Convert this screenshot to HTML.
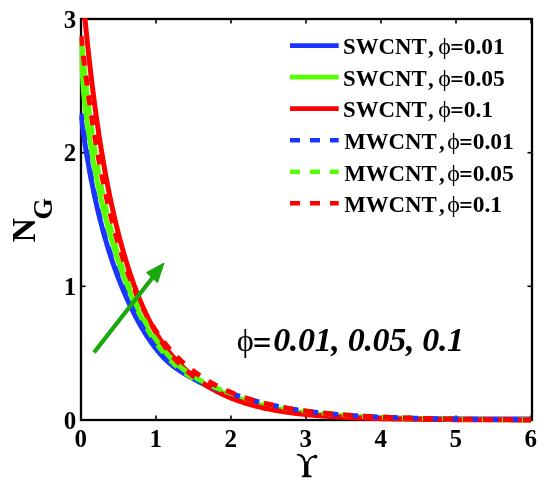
<!DOCTYPE html>
<html><head><meta charset="utf-8"><style>
html,body{margin:0;padding:0;background:#fff;}
svg{display:block;filter:blur(0.4px);}
text{font-family:"Liberation Serif",serif;font-kerning:none;}
.tl{font-size:25px;font-weight:bold;}
.lg{font-size:22.8px;font-weight:bold;}
.phi{font-weight:normal;font-size:24px;}
.val{font-size:23.5px;}
</style></head><body>
<svg width="550" height="489" viewBox="0 0 550 489">
<rect width="550" height="489" fill="#fff"/>
<defs><clipPath id="cp"><rect x="79.5" y="18.0" width="454.5" height="405.0"/></clipPath></defs>
<g stroke="#000" fill="none">
<rect x="81.0" y="19.0" width="451.0" height="401.0" stroke-width="2.3"/>
<g stroke-width="1.6"><line x1="81.0" y1="420.0" x2="81.0" y2="415.5"/><line x1="81.0" y1="19.0" x2="81.0" y2="23.5"/><line x1="156.0" y1="420.0" x2="156.0" y2="415.5"/><line x1="156.0" y1="19.0" x2="156.0" y2="23.5"/><line x1="231.0" y1="420.0" x2="231.0" y2="415.5"/><line x1="231.0" y1="19.0" x2="231.0" y2="23.5"/><line x1="306.0" y1="420.0" x2="306.0" y2="415.5"/><line x1="306.0" y1="19.0" x2="306.0" y2="23.5"/><line x1="381.0" y1="420.0" x2="381.0" y2="415.5"/><line x1="381.0" y1="19.0" x2="381.0" y2="23.5"/><line x1="456.0" y1="420.0" x2="456.0" y2="415.5"/><line x1="456.0" y1="19.0" x2="456.0" y2="23.5"/><line x1="531.0" y1="420.0" x2="531.0" y2="415.5"/><line x1="531.0" y1="19.0" x2="531.0" y2="23.5"/><line x1="81.0" y1="420.0" x2="85.5" y2="420.0"/><line x1="532.0" y1="420.0" x2="527.5" y2="420.0"/><line x1="81.0" y1="286.3" x2="85.5" y2="286.3"/><line x1="532.0" y1="286.3" x2="527.5" y2="286.3"/><line x1="81.0" y1="152.7" x2="85.5" y2="152.7"/><line x1="532.0" y1="152.7" x2="527.5" y2="152.7"/><line x1="81.0" y1="19.0" x2="85.5" y2="19.0"/><line x1="532.0" y1="19.0" x2="527.5" y2="19.0"/></g>
</g>
<g clip-path="url(#cp)">
<path d="M81.00,116.30 L81.13,117.24 L81.25,118.18 L81.38,119.11 L81.51,120.04 L81.64,120.96 L81.76,121.88 L81.89,122.79 L82.02,123.70 L82.14,124.60 L82.27,125.50 L82.40,126.39 L82.53,127.29 L82.65,128.17 L82.78,129.05 L82.91,129.93 L83.03,130.81 L83.16,131.68 L83.29,132.54 L83.42,133.40 L83.54,134.26 L83.67,135.11 L83.80,135.96 L83.92,136.81 L84.05,137.65 L84.18,138.48 L84.31,139.32 L84.43,140.15 L84.56,140.97 L84.69,141.79 L84.81,142.61 L84.94,143.42 L85.07,144.24 L85.19,145.04 L85.32,145.84 L85.45,146.64 L85.58,147.44 L85.70,148.23 L85.83,149.02 L85.96,149.80 L86.08,150.58 L86.21,151.36 L86.34,152.14 L86.47,152.91 L86.59,153.67 L86.72,154.44 L86.85,155.20 L86.97,155.95 L87.10,156.71 L87.23,157.46 L87.36,158.20 L87.48,158.95 L87.61,159.69 L87.74,160.42 L87.86,161.16 L87.99,161.89 L88.12,162.62 L88.25,163.34 L88.37,164.06 L88.50,164.78 L88.92,167.14 L89.34,169.46 L89.77,171.76 L90.19,174.02 L90.61,176.25 L91.03,178.45 L91.45,180.62 L91.87,182.76 L92.30,184.88 L92.72,186.96 L93.14,189.02 L93.56,191.05 L93.98,193.06 L94.40,195.03 L94.83,196.99 L95.25,198.92 L95.67,200.82 L96.09,202.71 L96.51,204.57 L96.93,206.40 L97.36,208.22 L97.78,210.01 L98.20,211.78 L98.62,213.53 L99.04,215.26 L99.46,216.97 L99.89,218.66 L100.31,220.33 L100.73,221.99 L101.15,223.62 L101.57,225.24 L101.99,226.83 L102.42,228.42 L102.84,229.98 L103.26,231.53 L103.68,233.06 L104.10,234.57 L104.52,236.07 L104.95,237.55 L105.37,239.02 L105.79,240.47 L106.21,241.91 L106.63,243.33 L107.05,244.74 L107.48,246.13 L107.90,247.52 L108.32,248.88 L108.74,250.24 L109.16,251.58 L109.58,252.91 L110.01,254.22 L110.43,255.53 L110.85,256.82 L111.27,258.10 L111.69,259.37 L112.11,260.62 L112.54,261.87 L112.96,263.10 L113.38,264.32 L113.80,265.53 L114.22,266.74 L114.64,267.93 L115.07,269.11 L115.49,270.28 L115.91,271.44 L116.33,272.59 L116.75,273.73 L117.17,274.86 L117.60,275.98 L118.02,277.09 L118.44,278.20 L118.86,279.29 L119.28,280.38 L119.70,281.45 L120.13,282.52 L120.55,283.58 L120.97,284.63 L121.39,285.67 L121.81,286.71 L122.23,287.73 L122.66,288.75 L123.08,289.76 L123.50,290.77 L123.92,291.76 L124.34,292.75 L124.77,293.73 L125.19,294.70 L125.61,295.67 L126.03,296.62 L126.45,297.58 L126.87,298.52 L127.30,299.46 L127.72,300.39 L128.14,301.31 L128.56,302.23 L128.98,303.13 L129.40,304.04 L129.83,304.93 L130.25,305.82 L130.67,306.71 L131.09,307.58 L131.51,308.45 L131.93,309.31 L132.36,310.17 L132.78,311.02 L133.20,311.87 L133.62,312.71 L134.04,313.54 L134.46,314.36 L134.89,315.18 L135.31,316.00 L135.73,316.80 L136.15,317.61 L136.57,318.40 L136.99,319.19 L137.42,319.97 L137.84,320.75 L138.26,321.52 L138.68,322.29 L139.10,323.05 L139.52,323.80 L139.95,324.55 L140.37,325.29 L140.79,326.03 L141.21,326.76 L141.63,327.48 L142.05,328.20 L142.48,328.92 L142.90,329.62 L143.32,330.32 L143.74,331.02 L144.16,331.71 L144.58,332.39 L145.01,333.07 L145.43,333.75 L145.85,334.41 L146.27,335.07 L146.69,335.73 L147.11,336.38 L147.54,337.03 L147.96,337.66 L148.38,338.30 L148.80,338.92 L149.22,339.55 L149.64,340.16 L150.07,340.77 L150.49,341.38 L150.91,341.98 L151.33,342.57 L151.75,343.16 L152.17,343.75 L152.60,344.32 L153.02,344.90 L153.44,345.46 L153.86,346.02 L154.28,346.58 L154.70,347.13 L155.13,347.68 L155.55,348.22 L155.97,348.75 L156.39,349.28 L156.81,349.81 L157.23,350.33 L157.66,350.84 L158.08,351.35 L158.50,351.86 L158.92,352.35 L159.34,352.85 L159.77,353.34 L160.19,353.82 L160.61,354.30 L161.03,354.78 L161.45,355.25 L161.87,355.71 L162.30,356.17 L162.72,356.63 L163.14,357.08 L163.56,357.53 L163.98,357.97 L164.40,358.40 L164.83,358.83 L165.25,359.25 L165.67,359.66 L166.09,360.07 L166.51,360.47 L166.93,360.86 L167.36,361.25 L167.78,361.63 L168.20,362.01 L168.62,362.38 L169.04,362.75 L169.46,363.11 L169.89,363.46 L170.31,363.82 L170.73,364.16 L171.15,364.50 L171.57,364.84 L171.99,365.17 L172.42,365.50 L172.84,365.83 L173.26,366.15 L173.68,366.47 L174.10,366.78 L174.52,367.09 L174.95,367.40 L175.37,367.70 L175.79,368.00 L176.21,368.30 L176.63,368.59 L177.05,368.89 L177.48,369.17 L177.90,369.46 L178.32,369.74 L178.74,370.03 L179.16,370.30 L179.58,370.58 L180.01,370.85 L180.43,371.13 L180.85,371.40 L181.27,371.67 L181.69,371.93 L182.11,372.20 L182.54,372.46 L182.96,372.72 L183.38,372.98 L183.80,373.24 L184.22,373.49 L184.64,373.75 L185.07,374.00 L185.49,374.26 L185.91,374.51 L186.33,374.76 L186.75,375.01 L187.17,375.25 L187.60,375.50 L188.02,375.74 L188.44,375.99 L188.86,376.23 L189.28,376.48 L189.70,376.72 L190.13,376.96 L190.55,377.20 L190.97,377.44 L191.39,377.68 L191.81,377.91 L192.23,378.15 L192.66,378.39 L193.08,378.62 L193.50,378.86 L194.63,379.48 L195.76,380.11 L196.89,380.72 L198.02,381.34 L199.14,381.95 L200.27,382.55 L201.40,383.15 L202.53,383.75 L203.66,384.35 L204.79,384.94 L205.92,385.52 L207.05,386.10 L208.17,386.68 L209.30,387.25 L210.43,387.82 L211.56,388.39 L212.69,388.94 L213.82,389.50 L214.95,390.05 L216.08,390.59 L217.20,391.13 L218.33,391.66 L219.46,392.19 L220.59,392.71 L221.72,393.22 L222.85,393.73 L223.98,394.23 L225.11,394.73 L226.23,395.22 L227.36,395.70 L228.49,396.18 L229.62,396.65 L230.75,397.11 L231.88,397.57 L233.01,398.01 L234.14,398.45 L235.26,398.88 L236.39,399.30 L237.52,399.71 L238.65,400.12 L239.78,400.51 L240.91,400.90 L242.04,401.28 L243.17,401.65 L244.29,402.01 L245.42,402.37 L246.55,402.71 L247.68,403.05 L248.81,403.39 L249.94,403.72 L251.07,404.04 L252.20,404.35 L253.32,404.66 L254.45,404.96 L255.58,405.25 L256.71,405.54 L257.84,405.82 L258.97,406.10 L260.10,406.37 L261.23,406.64 L262.35,406.90 L263.48,407.15 L264.61,407.40 L265.74,407.64 L266.87,407.88 L268.00,408.12 L269.13,408.35 L270.26,408.57 L271.38,408.79 L272.51,409.01 L273.64,409.22 L274.77,409.42 L275.90,409.63 L277.03,409.82 L278.16,410.02 L279.29,410.21 L280.41,410.39 L281.54,410.58 L282.67,410.75 L283.80,410.93 L284.93,411.10 L286.06,411.27 L287.19,411.43 L288.32,411.59 L289.44,411.75 L290.57,411.90 L291.70,412.05 L292.83,412.20 L293.96,412.35 L295.09,412.49 L296.22,412.63 L297.35,412.76 L298.47,412.90 L299.60,413.03 L300.73,413.15 L301.86,413.28 L302.99,413.40 L304.12,413.52 L305.25,413.64 L306.38,413.75 L307.51,413.87 L308.63,413.98 L309.76,414.08 L310.89,414.19 L312.02,414.29 L313.15,414.40 L314.28,414.49 L315.41,414.59 L316.54,414.69 L317.66,414.78 L318.79,414.87 L319.92,414.96 L321.05,415.05 L322.18,415.13 L323.31,415.22 L324.44,415.30 L325.57,415.38 L326.69,415.46 L327.82,415.54 L328.95,415.61 L330.08,415.69 L331.21,415.76 L332.34,415.83 L333.47,415.90 L334.60,415.97 L335.72,416.04 L336.85,416.10 L337.98,416.17 L339.11,416.23 L340.24,416.29 L341.37,416.35 L342.50,416.41 L343.63,416.47 L344.75,416.52 L345.88,416.58 L347.01,416.63 L348.14,416.69 L349.27,416.74 L350.40,416.79 L351.53,416.84 L352.66,416.89 L353.78,416.93 L354.91,416.98 L356.04,417.03 L357.17,417.07 L358.30,417.12 L359.43,417.16 L360.56,417.20 L361.69,417.24 L362.81,417.28 L363.94,417.32 L365.07,417.36 L366.20,417.40 L367.33,417.44 L368.46,417.47 L369.59,417.51 L370.72,417.54 L371.84,417.58 L372.97,417.61 L374.10,417.64 L375.23,417.68 L376.36,417.71 L377.49,417.74 L378.62,417.77 L379.75,417.80 L380.87,417.83 L382.00,417.86 L383.13,417.88 L384.26,417.91 L385.39,417.94 L386.52,417.96 L387.65,417.99 L388.78,418.01 L389.90,418.04 L391.03,418.06 L392.16,418.09 L393.29,418.11 L394.42,418.13 L395.55,418.15 L396.68,418.18 L397.81,418.20 L398.93,418.22 L400.06,418.24 L401.19,418.26 L402.32,418.28 L403.45,418.30 L404.58,418.31 L405.71,418.33 L406.84,418.35 L407.96,418.37 L409.09,418.39 L410.22,418.40 L411.35,418.42 L412.48,418.43 L413.61,418.45 L414.74,418.47 L415.87,418.48 L416.99,418.50 L418.12,418.51 L419.25,418.52 L420.38,418.54 L421.51,418.55 L422.64,418.57 L423.77,418.58 L424.90,418.59 L426.03,418.60 L427.15,418.62 L428.28,418.63 L429.41,418.64 L430.54,418.65 L431.67,418.66 L432.80,418.67 L433.93,418.68 L435.06,418.70 L436.18,418.71 L437.31,418.72 L438.44,418.73 L439.57,418.74 L440.70,418.75 L441.83,418.75 L442.96,418.76 L444.09,418.77 L445.21,418.78 L446.34,418.79 L447.47,418.80 L448.60,418.81 L449.73,418.81 L450.86,418.82 L451.99,418.83 L453.12,418.84 L454.24,418.85 L455.37,418.85 L456.50,418.86 L457.63,418.87 L458.76,418.87 L459.89,418.88 L461.02,418.89 L462.15,418.89 L463.27,418.90 L464.40,418.91 L465.53,418.91 L466.66,418.92 L467.79,418.92 L468.92,418.93 L470.05,418.94 L471.18,418.94 L472.30,418.95 L473.43,418.95 L474.56,418.96 L475.69,418.96 L476.82,418.97 L477.95,418.97 L479.08,418.98 L480.21,418.98 L481.33,418.98 L482.46,418.99 L483.59,418.99 L484.72,419.00 L485.85,419.00 L486.98,419.01 L488.11,419.01 L489.24,419.01 L490.36,419.02 L491.49,419.02 L492.62,419.02 L493.75,419.03 L494.88,419.03 L496.01,419.04 L497.14,419.04 L498.27,419.04 L499.39,419.05 L500.52,419.05 L501.65,419.05 L502.78,419.05 L503.91,419.06 L505.04,419.06 L506.17,419.06 L507.30,419.07 L508.42,419.07 L509.55,419.07 L510.68,419.07 L511.81,419.08 L512.94,419.08 L514.07,419.08 L515.20,419.08 L516.33,419.09 L517.45,419.09 L518.58,419.09 L519.71,419.09 L520.84,419.10 L521.97,419.10 L523.10,419.10 L524.23,419.10 L525.36,419.10 L526.48,419.11 L527.61,419.11 L528.74,419.11 L529.87,419.11 L531.00,419.11" fill="none" stroke="#1a35ff" stroke-width="5.0"/>
<path d="M81.00,37.72 L81.13,42.36 L81.25,46.65 L81.38,50.64 L81.51,54.34 L81.64,57.79 L81.76,61.01 L81.89,64.02 L82.02,66.84 L82.14,69.49 L82.27,71.99 L82.40,74.34 L82.53,76.57 L82.65,78.68 L82.78,80.68 L82.91,82.59 L83.03,84.41 L83.16,86.15 L83.29,87.82 L83.42,89.43 L83.54,90.97 L83.67,92.46 L83.80,93.90 L83.92,95.29 L84.05,96.64 L84.18,97.96 L84.31,99.24 L84.43,100.48 L84.56,101.70 L84.69,102.89 L84.81,104.05 L84.94,105.19 L85.07,106.31 L85.19,107.41 L85.32,108.49 L85.45,109.56 L85.58,110.61 L85.70,111.64 L85.83,112.66 L85.96,113.66 L86.08,114.66 L86.21,115.64 L86.34,116.61 L86.47,117.58 L86.59,118.53 L86.72,119.47 L86.85,120.41 L86.97,121.33 L87.10,122.25 L87.23,123.16 L87.36,124.07 L87.48,124.97 L87.61,125.86 L87.74,126.74 L87.86,127.62 L87.99,128.49 L88.12,129.36 L88.25,130.22 L88.37,131.07 L88.50,131.92 L88.92,134.70 L89.34,137.43 L89.77,140.12 L90.19,142.75 L90.61,145.34 L91.03,147.89 L91.45,150.40 L91.87,152.87 L92.30,155.31 L92.72,157.71 L93.14,160.07 L93.56,162.40 L93.98,164.69 L94.40,166.96 L94.83,169.19 L95.25,171.40 L95.67,173.57 L96.09,175.72 L96.51,177.84 L96.93,179.93 L97.36,181.99 L97.78,184.03 L98.20,186.05 L98.62,188.03 L99.04,190.00 L99.46,191.94 L99.89,193.86 L100.31,195.76 L100.73,197.64 L101.15,199.49 L101.57,201.33 L101.99,203.14 L102.42,204.93 L102.84,206.71 L103.26,208.47 L103.68,210.20 L104.10,211.92 L104.52,213.62 L104.95,215.31 L105.37,216.97 L105.79,218.62 L106.21,220.26 L106.63,221.87 L107.05,223.48 L107.48,225.06 L107.90,226.63 L108.32,228.19 L108.74,229.73 L109.16,231.26 L109.58,232.77 L110.01,234.27 L110.43,235.76 L110.85,237.23 L111.27,238.69 L111.69,240.13 L112.11,241.57 L112.54,242.99 L112.96,244.39 L113.38,245.79 L113.80,247.17 L114.22,248.55 L114.64,249.91 L115.07,251.26 L115.49,252.59 L115.91,253.92 L116.33,255.24 L116.75,256.54 L117.17,257.84 L117.60,259.12 L118.02,260.40 L118.44,261.66 L118.86,262.91 L119.28,264.16 L119.70,265.39 L120.13,266.61 L120.55,267.83 L120.97,269.03 L121.39,270.23 L121.81,271.41 L122.23,272.59 L122.66,273.76 L123.08,274.92 L123.50,276.07 L123.92,277.21 L124.34,278.35 L124.77,279.47 L125.19,280.59 L125.61,281.69 L126.03,282.79 L126.45,283.88 L126.87,284.97 L127.30,286.04 L127.72,287.11 L128.14,288.17 L128.56,289.22 L128.98,290.26 L129.40,291.30 L129.83,292.33 L130.25,293.35 L130.67,294.36 L131.09,295.37 L131.51,296.36 L131.93,297.35 L132.36,298.34 L132.78,299.31 L133.20,300.28 L133.62,301.24 L134.04,302.20 L134.46,303.14 L134.89,304.08 L135.31,305.02 L135.73,305.94 L136.15,306.86 L136.57,307.77 L136.99,308.68 L137.42,309.58 L137.84,310.47 L138.26,311.35 L138.68,312.23 L139.10,313.10 L139.52,313.96 L139.95,314.82 L140.37,315.67 L140.79,316.51 L141.21,317.35 L141.63,318.18 L142.05,319.00 L142.48,319.82 L142.90,320.63 L143.32,321.43 L143.74,322.23 L144.16,323.02 L144.58,323.80 L145.01,324.58 L145.43,325.35 L145.85,326.12 L146.27,326.87 L146.69,327.63 L147.11,328.37 L147.54,329.11 L147.96,329.84 L148.38,330.57 L148.80,331.29 L149.22,332.00 L149.64,332.71 L150.07,333.41 L150.49,334.10 L150.91,334.79 L151.33,335.47 L151.75,336.15 L152.17,336.81 L152.60,337.48 L153.02,338.14 L153.44,338.79 L153.86,339.43 L154.28,340.07 L154.70,340.70 L155.13,341.33 L155.55,341.95 L155.97,342.57 L156.39,343.18 L156.81,343.78 L157.23,344.38 L157.66,344.97 L158.08,345.56 L158.50,346.14 L158.92,346.71 L159.34,347.28 L159.77,347.85 L160.19,348.40 L160.61,348.96 L161.03,349.51 L161.45,350.05 L161.87,350.59 L162.30,351.12 L162.72,351.64 L163.14,352.17 L163.56,352.68 L163.98,353.19 L164.40,353.70 L164.83,354.20 L165.25,354.70 L165.67,355.19 L166.09,355.68 L166.51,356.16 L166.93,356.64 L167.36,357.11 L167.78,357.58 L168.20,358.05 L168.62,358.51 L169.04,358.96 L169.46,359.41 L169.89,359.86 L170.31,360.30 L170.73,360.74 L171.15,361.18 L171.57,361.61 L171.99,362.03 L172.42,362.45 L172.84,362.86 L173.26,363.27 L173.68,363.68 L174.10,364.07 L174.52,364.47 L174.95,364.86 L175.37,365.24 L175.79,365.63 L176.21,366.00 L176.63,366.37 L177.05,366.74 L177.48,367.11 L177.90,367.47 L178.32,367.82 L178.74,368.17 L179.16,368.52 L179.58,368.87 L180.01,369.21 L180.43,369.54 L180.85,369.88 L181.27,370.21 L181.69,370.53 L182.11,370.86 L182.54,371.18 L182.96,371.49 L183.38,371.81 L183.80,372.12 L184.22,372.43 L184.64,372.73 L185.07,373.03 L185.49,373.33 L185.91,373.63 L186.33,373.92 L186.75,374.21 L187.17,374.50 L187.60,374.79 L188.02,375.07 L188.44,375.35 L188.86,375.63 L189.28,375.90 L189.70,376.18 L190.13,376.45 L190.55,376.72 L190.97,376.99 L191.39,377.25 L191.81,377.51 L192.23,377.77 L192.66,378.03 L193.08,378.29 L193.50,378.54 L194.63,379.21 L195.76,379.87 L196.89,380.52 L198.02,381.15 L199.14,381.77 L200.27,382.38 L201.40,382.98 L202.53,383.56 L203.66,384.14 L204.79,384.71 L205.92,385.26 L207.05,385.81 L208.17,386.35 L209.30,386.88 L210.43,387.40 L211.56,387.91 L212.69,388.41 L213.82,388.91 L214.95,389.40 L216.08,389.88 L217.20,390.36 L218.33,390.82 L219.46,391.28 L220.59,391.74 L221.72,392.19 L222.85,392.63 L223.98,393.07 L225.11,393.50 L226.23,393.92 L227.36,394.34 L228.49,394.76 L229.62,395.17 L230.75,395.58 L231.88,395.98 L233.01,396.38 L234.14,396.77 L235.26,397.16 L236.39,397.55 L237.52,397.93 L238.65,398.31 L239.78,398.69 L240.91,399.06 L242.04,399.43 L243.17,399.80 L244.29,400.17 L245.42,400.53 L246.55,400.89 L247.68,401.25 L248.81,401.59 L249.94,401.94 L251.07,402.27 L252.20,402.60 L253.32,402.92 L254.45,403.24 L255.58,403.55 L256.71,403.85 L257.84,404.15 L258.97,404.44 L260.10,404.73 L261.23,405.01 L262.35,405.29 L263.48,405.56 L264.61,405.83 L265.74,406.09 L266.87,406.35 L268.00,406.60 L269.13,406.84 L270.26,407.09 L271.38,407.33 L272.51,407.56 L273.64,407.79 L274.77,408.01 L275.90,408.23 L277.03,408.45 L278.16,408.66 L279.29,408.87 L280.41,409.07 L281.54,409.27 L282.67,409.47 L283.80,409.66 L284.93,409.85 L286.06,410.04 L287.19,410.22 L288.32,410.40 L289.44,410.58 L290.57,410.75 L291.70,410.92 L292.83,411.09 L293.96,411.25 L295.09,411.41 L296.22,411.57 L297.35,411.72 L298.47,411.87 L299.60,412.02 L300.73,412.17 L301.86,412.31 L302.99,412.45 L304.12,412.59 L305.25,412.72 L306.38,412.86 L307.51,412.99 L308.63,413.11 L309.76,413.24 L310.89,413.36 L312.02,413.48 L313.15,413.60 L314.28,413.72 L315.41,413.83 L316.54,413.95 L317.66,414.06 L318.79,414.16 L319.92,414.27 L321.05,414.37 L322.18,414.48 L323.31,414.58 L324.44,414.68 L325.57,414.77 L326.69,414.87 L327.82,414.96 L328.95,415.05 L330.08,415.14 L331.21,415.23 L332.34,415.32 L333.47,415.40 L334.60,415.49 L335.72,415.57 L336.85,415.65 L337.98,415.73 L339.11,415.80 L340.24,415.88 L341.37,415.95 L342.50,416.03 L343.63,416.10 L344.75,416.17 L345.88,416.24 L347.01,416.31 L348.14,416.37 L349.27,416.44 L350.40,416.50 L351.53,416.57 L352.66,416.63 L353.78,416.69 L354.91,416.75 L356.04,416.81 L357.17,416.87 L358.30,416.92 L359.43,416.98 L360.56,417.03 L361.69,417.09 L362.81,417.14 L363.94,417.19 L365.07,417.24 L366.20,417.29 L367.33,417.34 L368.46,417.39 L369.59,417.43 L370.72,417.48 L371.84,417.53 L372.97,417.57 L374.10,417.61 L375.23,417.66 L376.36,417.70 L377.49,417.74 L378.62,417.78 L379.75,417.82 L380.87,417.86 L382.00,417.90 L383.13,417.94 L384.26,417.97 L385.39,418.01 L386.52,418.05 L387.65,418.08 L388.78,418.12 L389.90,418.15 L391.03,418.18 L392.16,418.22 L393.29,418.25 L394.42,418.28 L395.55,418.31 L396.68,418.34 L397.81,418.37 L398.93,418.40 L400.06,418.43 L401.19,418.46 L402.32,418.48 L403.45,418.51 L404.58,418.54 L405.71,418.56 L406.84,418.59 L407.96,418.61 L409.09,418.64 L410.22,418.66 L411.35,418.69 L412.48,418.71 L413.61,418.73 L414.74,418.76 L415.87,418.78 L416.99,418.80 L418.12,418.82 L419.25,418.84 L420.38,418.86 L421.51,418.88 L422.64,418.90 L423.77,418.92 L424.90,418.94 L426.03,418.96 L427.15,418.98 L428.28,419.00 L429.41,419.02 L430.54,419.03 L431.67,419.05 L432.80,419.07 L433.93,419.08 L435.06,419.10 L436.18,419.12 L437.31,419.13 L438.44,419.15 L439.57,419.16 L440.70,419.18 L441.83,419.19 L442.96,419.21 L444.09,419.22 L445.21,419.23 L446.34,419.25 L447.47,419.26 L448.60,419.27 L449.73,419.29 L450.86,419.30 L451.99,419.31 L453.12,419.32 L454.24,419.34 L455.37,419.35 L456.50,419.36 L457.63,419.37 L458.76,419.38 L459.89,419.39 L461.02,419.40 L462.15,419.41 L463.27,419.43 L464.40,419.44 L465.53,419.45 L466.66,419.46 L467.79,419.46 L468.92,419.47 L470.05,419.48 L471.18,419.49 L472.30,419.50 L473.43,419.51 L474.56,419.52 L475.69,419.53 L476.82,419.54 L477.95,419.54 L479.08,419.55 L480.21,419.56 L481.33,419.57 L482.46,419.58 L483.59,419.58 L484.72,419.59 L485.85,419.60 L486.98,419.60 L488.11,419.61 L489.24,419.62 L490.36,419.63 L491.49,419.63 L492.62,419.64 L493.75,419.64 L494.88,419.65 L496.01,419.66 L497.14,419.66 L498.27,419.67 L499.39,419.68 L500.52,419.68 L501.65,419.69 L502.78,419.69 L503.91,419.70 L505.04,419.70 L506.17,419.71 L507.30,419.71 L508.42,419.72 L509.55,419.72 L510.68,419.73 L511.81,419.73 L512.94,419.74 L514.07,419.74 L515.20,419.75 L516.33,419.75 L517.45,419.76 L518.58,419.76 L519.71,419.76 L520.84,419.77 L521.97,419.77 L523.10,419.78 L524.23,419.78 L525.36,419.78 L526.48,419.79 L527.61,419.79 L528.74,419.80 L529.87,419.80 L531.00,419.80" fill="none" stroke="#55ff00" stroke-width="5.0"/>
<path d="M81.00,-21.00 L81.13,-21.00 L81.25,-21.00 L81.38,-21.00 L81.51,-19.95 L81.64,-18.45 L81.76,-16.95 L81.89,-15.47 L82.02,-13.99 L82.14,-12.52 L82.27,-11.05 L82.40,-9.59 L82.53,-8.14 L82.65,-6.70 L82.78,-5.26 L82.91,-3.83 L83.03,-2.40 L83.16,-0.99 L83.29,0.42 L83.42,1.83 L83.54,3.23 L83.67,4.62 L83.80,6.01 L83.92,7.39 L84.05,8.76 L84.18,10.13 L84.31,11.49 L84.43,12.84 L84.56,14.19 L84.69,15.53 L84.81,16.87 L84.94,18.20 L85.07,19.52 L85.19,20.84 L85.32,22.15 L85.45,23.46 L85.58,24.76 L85.70,26.05 L85.83,27.34 L85.96,28.63 L86.08,29.90 L86.21,31.18 L86.34,32.44 L86.47,33.70 L86.59,34.96 L86.72,36.21 L86.85,37.45 L86.97,38.69 L87.10,39.92 L87.23,41.15 L87.36,42.37 L87.48,43.59 L87.61,44.80 L87.74,46.01 L87.86,47.21 L87.99,48.40 L88.12,49.59 L88.25,50.78 L88.37,51.96 L88.50,53.13 L88.92,56.99 L89.34,60.80 L89.77,64.55 L90.19,68.25 L90.61,71.90 L91.03,75.50 L91.45,79.05 L91.87,82.54 L92.30,85.99 L92.72,89.40 L93.14,92.75 L93.56,96.07 L93.98,99.33 L94.40,102.56 L94.83,105.74 L95.25,108.87 L95.67,111.97 L96.09,115.03 L96.51,118.04 L96.93,121.02 L97.36,123.96 L97.78,126.86 L98.20,129.72 L98.62,132.55 L99.04,135.34 L99.46,138.09 L99.89,140.82 L100.31,143.50 L100.73,146.16 L101.15,148.78 L101.57,151.37 L101.99,153.92 L102.42,156.45 L102.84,158.94 L103.26,161.41 L103.68,163.84 L104.10,166.25 L104.52,168.63 L104.95,170.98 L105.37,173.30 L105.79,175.60 L106.21,177.86 L106.63,180.11 L107.05,182.32 L107.48,184.51 L107.90,186.68 L108.32,188.82 L108.74,190.94 L109.16,193.03 L109.58,195.10 L110.01,197.15 L110.43,199.17 L110.85,201.17 L111.27,203.15 L111.69,205.11 L112.11,207.05 L112.54,208.96 L112.96,210.86 L113.38,212.73 L113.80,214.59 L114.22,216.42 L114.64,218.24 L115.07,220.03 L115.49,221.81 L115.91,223.57 L116.33,225.31 L116.75,227.03 L117.17,228.74 L117.60,230.43 L118.02,232.10 L118.44,233.75 L118.86,235.39 L119.28,237.01 L119.70,238.61 L120.13,240.20 L120.55,241.77 L120.97,243.33 L121.39,244.87 L121.81,246.40 L122.23,247.91 L122.66,249.40 L123.08,250.89 L123.50,252.35 L123.92,253.81 L124.34,255.25 L124.77,256.67 L125.19,258.08 L125.61,259.48 L126.03,260.87 L126.45,262.24 L126.87,263.60 L127.30,264.95 L127.72,266.28 L128.14,267.60 L128.56,268.91 L128.98,270.21 L129.40,271.50 L129.83,272.77 L130.25,274.03 L130.67,275.28 L131.09,276.52 L131.51,277.75 L131.93,278.97 L132.36,280.17 L132.78,281.37 L133.20,282.55 L133.62,283.72 L134.04,284.88 L134.46,286.03 L134.89,287.18 L135.31,288.31 L135.73,289.43 L136.15,290.54 L136.57,291.64 L136.99,292.73 L137.42,293.81 L137.84,294.88 L138.26,295.94 L138.68,296.99 L139.10,298.03 L139.52,299.07 L139.95,300.09 L140.37,301.10 L140.79,302.11 L141.21,303.11 L141.63,304.09 L142.05,305.07 L142.48,306.04 L142.90,307.00 L143.32,307.95 L143.74,308.90 L144.16,309.83 L144.58,310.76 L145.01,311.67 L145.43,312.58 L145.85,313.48 L146.27,314.37 L146.69,315.26 L147.11,316.14 L147.54,317.00 L147.96,317.86 L148.38,318.72 L148.80,319.56 L149.22,320.40 L149.64,321.22 L150.07,322.05 L150.49,322.86 L150.91,323.66 L151.33,324.46 L151.75,325.25 L152.17,326.04 L152.60,326.81 L153.02,327.58 L153.44,328.34 L153.86,329.09 L154.28,329.84 L154.70,330.58 L155.13,331.31 L155.55,332.04 L155.97,332.76 L156.39,333.47 L156.81,334.18 L157.23,334.87 L157.66,335.57 L158.08,336.25 L158.50,336.93 L158.92,337.60 L159.34,338.27 L159.77,338.93 L160.19,339.58 L160.61,340.23 L161.03,340.87 L161.45,341.50 L161.87,342.13 L162.30,342.75 L162.72,343.37 L163.14,343.98 L163.56,344.59 L163.98,345.19 L164.40,345.78 L164.83,346.37 L165.25,346.95 L165.67,347.53 L166.09,348.10 L166.51,348.66 L166.93,349.22 L167.36,349.78 L167.78,350.33 L168.20,350.87 L168.62,351.41 L169.04,351.95 L169.46,352.48 L169.89,353.00 L170.31,353.53 L170.73,354.04 L171.15,354.55 L171.57,355.06 L171.99,355.56 L172.42,356.06 L172.84,356.55 L173.26,357.04 L173.68,357.52 L174.10,358.00 L174.52,358.48 L174.95,358.95 L175.37,359.42 L175.79,359.88 L176.21,360.34 L176.63,360.79 L177.05,361.25 L177.48,361.69 L177.90,362.14 L178.32,362.58 L178.74,363.01 L179.16,363.45 L179.58,363.87 L180.01,364.30 L180.43,364.72 L180.85,365.14 L181.27,365.56 L181.69,365.97 L182.11,366.38 L182.54,366.78 L182.96,367.18 L183.38,367.58 L183.80,367.98 L184.22,368.37 L184.64,368.76 L185.07,369.15 L185.49,369.53 L185.91,369.91 L186.33,370.29 L186.75,370.66 L187.17,371.04 L187.60,371.41 L188.02,371.77 L188.44,372.14 L188.86,372.50 L189.28,372.86 L189.70,373.21 L190.13,373.56 L190.55,373.91 L190.97,374.26 L191.39,374.61 L191.81,374.95 L192.23,375.29 L192.66,375.63 L193.08,375.96 L193.50,376.30 L194.63,377.18 L195.76,378.04 L196.89,378.88 L198.02,379.71 L199.14,380.53 L200.27,381.33 L201.40,382.11 L202.53,382.88 L203.66,383.63 L204.79,384.37 L205.92,385.10 L207.05,385.81 L208.17,386.51 L209.30,387.20 L210.43,387.87 L211.56,388.53 L212.69,389.17 L213.82,389.80 L214.95,390.42 L216.08,391.03 L217.20,391.63 L218.33,392.21 L219.46,392.78 L220.59,393.35 L221.72,393.90 L222.85,394.43 L223.98,394.96 L225.11,395.48 L226.23,395.99 L227.36,396.48 L228.49,396.97 L229.62,397.44 L230.75,397.91 L231.88,398.37 L233.01,398.81 L234.14,399.25 L235.26,399.68 L236.39,400.10 L237.52,400.51 L238.65,400.92 L239.78,401.31 L240.91,401.70 L242.04,402.08 L243.17,402.45 L244.29,402.81 L245.42,403.17 L246.55,403.52 L247.68,403.86 L248.81,404.19 L249.94,404.52 L251.07,404.84 L252.20,405.15 L253.32,405.46 L254.45,405.76 L255.58,406.05 L256.71,406.34 L257.84,406.63 L258.97,406.90 L260.10,407.17 L261.23,407.44 L262.35,407.70 L263.48,407.95 L264.61,408.20 L265.74,408.45 L266.87,408.69 L268.00,408.92 L269.13,409.15 L270.26,409.37 L271.38,409.59 L272.51,409.81 L273.64,410.02 L274.77,410.23 L275.90,410.43 L277.03,410.63 L278.16,410.82 L279.29,411.01 L280.41,411.20 L281.54,411.38 L282.67,411.56 L283.80,411.73 L284.93,411.90 L286.06,412.07 L287.19,412.23 L288.32,412.39 L289.44,412.55 L290.57,412.71 L291.70,412.86 L292.83,413.00 L293.96,413.15 L295.09,413.29 L296.22,413.43 L297.35,413.57 L298.47,413.70 L299.60,413.83 L300.73,413.96 L301.86,414.08 L302.99,414.20 L304.12,414.32 L305.25,414.44 L306.38,414.56 L307.51,414.67 L308.63,414.78 L309.76,414.89 L310.89,414.99 L312.02,415.10 L313.15,415.20 L314.28,415.30 L315.41,415.39 L316.54,415.49 L317.66,415.58 L318.79,415.67 L319.92,415.76 L321.05,415.85 L322.18,415.94 L323.31,416.02 L324.44,416.10 L325.57,416.18 L326.69,416.26 L327.82,416.34 L328.95,416.42 L330.08,416.49 L331.21,416.56 L332.34,416.63 L333.47,416.70 L334.60,416.77 L335.72,416.84 L336.85,416.90 L337.98,416.97 L339.11,417.03 L340.24,417.09 L341.37,417.15 L342.50,417.21 L343.63,417.27 L344.75,417.33 L345.88,417.38 L347.01,417.43 L348.14,417.49 L349.27,417.54 L350.40,417.59 L351.53,417.64 L352.66,417.69 L353.78,417.74 L354.91,417.78 L356.04,417.83 L357.17,417.87 L358.30,417.92 L359.43,417.96 L360.56,418.00 L361.69,418.04 L362.81,418.09 L363.94,418.12 L365.07,418.16 L366.20,418.20 L367.33,418.24 L368.46,418.28 L369.59,418.31 L370.72,418.35 L371.84,418.38 L372.97,418.41 L374.10,418.45 L375.23,418.48 L376.36,418.51 L377.49,418.54 L378.62,418.57 L379.75,418.60 L380.87,418.63 L382.00,418.66 L383.13,418.69 L384.26,418.71 L385.39,418.74 L386.52,418.77 L387.65,418.79 L388.78,418.82 L389.90,418.84 L391.03,418.86 L392.16,418.89 L393.29,418.91 L394.42,418.93 L395.55,418.96 L396.68,418.98 L397.81,419.00 L398.93,419.02 L400.06,419.04 L401.19,419.06 L402.32,419.08 L403.45,419.10 L404.58,419.12 L405.71,419.13 L406.84,419.15 L407.96,419.17 L409.09,419.19 L410.22,419.20 L411.35,419.22 L412.48,419.24 L413.61,419.25 L414.74,419.27 L415.87,419.28 L416.99,419.30 L418.12,419.31 L419.25,419.33 L420.38,419.34 L421.51,419.35 L422.64,419.37 L423.77,419.38 L424.90,419.39 L426.03,419.41 L427.15,419.42 L428.28,419.43 L429.41,419.44 L430.54,419.45 L431.67,419.46 L432.80,419.48 L433.93,419.49 L435.06,419.50 L436.18,419.51 L437.31,419.52 L438.44,419.53 L439.57,419.54 L440.70,419.55 L441.83,419.56 L442.96,419.57 L444.09,419.57 L445.21,419.58 L446.34,419.59 L447.47,419.60 L448.60,419.61 L449.73,419.62 L450.86,419.62 L451.99,419.63 L453.12,419.64 L454.24,419.65 L455.37,419.65 L456.50,419.66 L457.63,419.67 L458.76,419.68 L459.89,419.68 L461.02,419.69 L462.15,419.70 L463.27,419.70 L464.40,419.71 L465.53,419.71 L466.66,419.72 L467.79,419.73 L468.92,419.73 L470.05,419.74 L471.18,419.74 L472.30,419.75 L473.43,419.75 L474.56,419.76 L475.69,419.76 L476.82,419.77 L477.95,419.77 L479.08,419.78 L480.21,419.78 L481.33,419.79 L482.46,419.79 L483.59,419.80 L484.72,419.80 L485.85,419.80 L486.98,419.81 L488.11,419.81 L489.24,419.82 L490.36,419.82 L491.49,419.82 L492.62,419.83 L493.75,419.83 L494.88,419.83 L496.01,419.84 L497.14,419.84 L498.27,419.84 L499.39,419.85 L500.52,419.85 L501.65,419.85 L502.78,419.86 L503.91,419.86 L505.04,419.86 L506.17,419.87 L507.30,419.87 L508.42,419.87 L509.55,419.87 L510.68,419.88 L511.81,419.88 L512.94,419.88 L514.07,419.88 L515.20,419.89 L516.33,419.89 L517.45,419.89 L518.58,419.89 L519.71,419.90 L520.84,419.90 L521.97,419.90 L523.10,419.90 L524.23,419.90 L525.36,419.91 L526.48,419.91 L527.61,419.91 L528.74,419.91 L529.87,419.91 L531.00,419.91" fill="none" stroke="#ff0000" stroke-width="5.0"/>
<path d="M81.00,113.46 L81.13,114.43 L81.25,115.40 L81.38,116.36 L81.51,117.32 L81.64,118.27 L81.76,119.21 L81.89,120.16 L82.02,121.09 L82.14,122.03 L82.27,122.95 L82.40,123.88 L82.53,124.79 L82.65,125.71 L82.78,126.62 L82.91,127.52 L83.03,128.42 L83.16,129.31 L83.29,130.20 L83.42,131.09 L83.54,131.97 L83.67,132.85 L83.80,133.72 L83.92,134.59 L84.05,135.45 L84.18,136.31 L84.31,137.16 L84.43,138.01 L84.56,138.86 L84.69,139.70 L84.81,140.54 L84.94,141.37 L85.07,142.20 L85.19,143.03 L85.32,143.85 L85.45,144.67 L85.58,145.48 L85.70,146.29 L85.83,147.09 L85.96,147.90 L86.08,148.69 L86.21,149.49 L86.34,150.28 L86.47,151.06 L86.59,151.85 L86.72,152.62 L86.85,153.40 L86.97,154.17 L87.10,154.94 L87.23,155.70 L87.36,156.46 L87.48,157.22 L87.61,157.97 L87.74,158.72 L87.86,159.47 L87.99,160.21 L88.12,160.95 L88.25,161.69 L88.37,162.42 L88.50,163.15 L88.92,165.55 L89.34,167.91 L89.77,170.23 L90.19,172.52 L90.61,174.78 L91.03,177.01 L91.45,179.20 L91.87,181.36 L92.30,183.50 L92.72,185.60 L93.14,187.67 L93.56,189.72 L93.98,191.74 L94.40,193.73 L94.83,195.69 L95.25,197.63 L95.67,199.54 L96.09,201.43 L96.51,203.30 L96.93,205.14 L97.36,206.96 L97.78,208.75 L98.20,210.52 L98.62,212.28 L99.04,214.01 L99.46,215.72 L99.89,217.41 L100.31,219.07 L100.73,220.72 L101.15,222.36 L101.57,223.97 L101.99,225.56 L102.42,227.14 L102.84,228.70 L103.26,230.24 L103.68,231.76 L104.10,233.27 L104.52,234.76 L104.95,236.24 L105.37,237.70 L105.79,239.14 L106.21,240.57 L106.63,241.98 L107.05,243.39 L107.48,244.77 L107.90,246.14 L108.32,247.50 L108.74,248.85 L109.16,250.18 L109.58,251.50 L110.01,252.81 L110.43,254.10 L110.85,255.38 L111.27,256.65 L111.69,257.91 L112.11,259.16 L112.54,260.39 L112.96,261.62 L113.38,262.83 L113.80,264.03 L114.22,265.22 L114.64,266.40 L115.07,267.58 L115.49,268.74 L115.91,269.89 L116.33,271.03 L116.75,272.16 L117.17,273.28 L117.60,274.39 L118.02,275.50 L118.44,276.59 L118.86,277.68 L119.28,278.75 L119.70,279.82 L120.13,280.88 L120.55,281.93 L120.97,282.97 L121.39,284.01 L121.81,285.04 L122.23,286.05 L122.66,287.07 L123.08,288.07 L123.50,289.06 L123.92,290.05 L124.34,291.03 L124.77,292.00 L125.19,292.97 L125.61,293.93 L126.03,294.88 L126.45,295.82 L126.87,296.76 L127.30,297.69 L127.72,298.62 L128.14,299.53 L128.56,300.44 L128.98,301.35 L129.40,302.24 L129.83,303.13 L130.25,304.02 L130.67,304.89 L131.09,305.77 L131.51,306.63 L131.93,307.49 L132.36,308.34 L132.78,309.19 L133.20,310.03 L133.62,310.86 L134.04,311.69 L134.46,312.51 L134.89,313.33 L135.31,314.14 L135.73,314.94 L136.15,315.74 L136.57,316.53 L136.99,317.32 L137.42,318.10 L137.84,318.87 L138.26,319.64 L138.68,320.40 L139.10,321.16 L139.52,321.91 L139.95,322.66 L140.37,323.40 L140.79,324.13 L141.21,324.86 L141.63,325.58 L142.05,326.30 L142.48,327.01 L142.90,327.72 L143.32,328.42 L143.74,329.11 L144.16,329.80 L144.58,330.48 L145.01,331.16 L145.43,331.83 L145.85,332.50 L146.27,333.16 L146.69,333.82 L147.11,334.47 L147.54,335.11 L147.96,335.75 L148.38,336.38 L148.80,337.01 L149.22,337.63 L149.64,338.25 L150.07,338.86 L150.49,339.46 L150.91,340.06 L151.33,340.66 L151.75,341.25 L152.17,341.83 L152.60,342.41 L153.02,342.98 L153.44,343.55 L153.86,344.11 L154.28,344.67 L154.70,345.22 L155.13,345.77 L155.55,346.31 L155.97,346.85 L156.39,347.38 L156.81,347.91 L157.23,348.43 L157.66,348.94 L158.08,349.46 L158.50,349.96 L158.92,350.46 L159.34,350.96 L159.77,351.45 L160.19,351.94 L160.61,352.42 L161.03,352.90 L161.45,353.37 L161.87,353.84 L162.30,354.30 L162.72,354.76 L163.14,355.21 L163.56,355.66 L163.98,356.11 L164.40,356.55 L164.83,356.98 L165.25,357.42 L165.67,357.84 L166.09,358.27 L166.51,358.69 L166.93,359.10 L167.36,359.52 L167.78,359.92 L168.20,360.33 L168.62,360.73 L169.04,361.12 L169.46,361.52 L169.89,361.91 L170.31,362.29 L170.73,362.67 L171.15,363.05 L171.57,363.43 L171.99,363.80 L172.42,364.17 L172.84,364.53 L173.26,364.90 L173.68,365.25 L174.10,365.61 L174.52,365.96 L174.95,366.31 L175.37,366.66 L175.79,367.00 L176.21,367.35 L176.63,367.68 L177.05,368.02 L177.48,368.35 L177.90,368.68 L178.32,369.01 L178.74,369.34 L179.16,369.66 L179.58,369.98 L180.01,370.29 L180.43,370.60 L180.85,370.91 L181.27,371.21 L181.69,371.50 L182.11,371.80 L182.54,372.09 L182.96,372.38 L183.38,372.66 L183.80,372.94 L184.22,373.22 L184.64,373.50 L185.07,373.77 L185.49,374.04 L185.91,374.30 L186.33,374.56 L186.75,374.82 L187.17,375.08 L187.60,375.34 L188.02,375.59 L188.44,375.84 L188.86,376.09 L189.28,376.33 L189.70,376.57 L190.13,376.81 L190.55,377.05 L190.97,377.29 L191.39,377.52 L191.81,377.75 L192.23,377.98 L192.66,378.21 L193.08,378.44 L193.50,378.66 L194.63,379.25 L195.76,379.82 L196.89,380.39 L198.02,380.94 L199.14,381.48 L200.27,382.01 L201.40,382.53 L202.53,383.04 L203.66,383.54 L204.79,384.04 L205.92,384.52 L207.05,384.99 L208.17,385.46 L209.30,385.92 L210.43,386.37 L211.56,386.82 L212.69,387.26 L213.82,387.69 L214.95,388.11 L216.08,388.53 L217.20,388.95 L218.33,389.35 L219.46,389.76 L220.59,390.15 L221.72,390.55 L222.85,390.94 L223.98,391.32 L225.11,391.70 L226.23,392.07 L227.36,392.45 L228.49,392.81 L229.62,393.18 L230.75,393.54 L231.88,393.90 L233.01,394.25 L234.14,394.61 L235.26,394.96 L236.39,395.31 L237.52,395.65 L238.65,396.00 L239.78,396.34 L240.91,396.68 L242.04,397.03 L243.17,397.36 L244.29,397.70 L245.42,398.04 L246.55,398.38 L247.68,398.71 L248.81,399.05 L249.94,399.38 L251.07,399.72 L252.20,400.05 L253.32,400.38 L254.45,400.71 L255.58,401.04 L256.71,401.36 L257.84,401.68 L258.97,401.99 L260.10,402.29 L261.23,402.59 L262.35,402.88 L263.48,403.17 L264.61,403.45 L265.74,403.73 L266.87,404.01 L268.00,404.28 L269.13,404.54 L270.26,404.80 L271.38,405.06 L272.51,405.31 L273.64,405.56 L274.77,405.80 L275.90,406.04 L277.03,406.27 L278.16,406.50 L279.29,406.73 L280.41,406.95 L281.54,407.17 L282.67,407.39 L283.80,407.60 L284.93,407.81 L286.06,408.01 L287.19,408.21 L288.32,408.41 L289.44,408.61 L290.57,408.80 L291.70,408.98 L292.83,409.17 L293.96,409.35 L295.09,409.53 L296.22,409.70 L297.35,409.88 L298.47,410.05 L299.60,410.21 L300.73,410.38 L301.86,410.54 L302.99,410.70 L304.12,410.85 L305.25,411.01 L306.38,411.16 L307.51,411.30 L308.63,411.45 L309.76,411.59 L310.89,411.73 L312.02,411.87 L313.15,412.01 L314.28,412.14 L315.41,412.27 L316.54,412.40 L317.66,412.53 L318.79,412.66 L319.92,412.78 L321.05,412.90 L322.18,413.02 L323.31,413.13 L324.44,413.25 L325.57,413.36 L326.69,413.47 L327.82,413.58 L328.95,413.69 L330.08,413.79 L331.21,413.90 L332.34,414.00 L333.47,414.10 L334.60,414.20 L335.72,414.30 L336.85,414.39 L337.98,414.49 L339.11,414.58 L340.24,414.67 L341.37,414.76 L342.50,414.84 L343.63,414.93 L344.75,415.02 L345.88,415.10 L347.01,415.18 L348.14,415.26 L349.27,415.34 L350.40,415.42 L351.53,415.49 L352.66,415.57 L353.78,415.64 L354.91,415.72 L356.04,415.79 L357.17,415.86 L358.30,415.93 L359.43,416.00 L360.56,416.06 L361.69,416.13 L362.81,416.19 L363.94,416.26 L365.07,416.32 L366.20,416.38 L367.33,416.44 L368.46,416.50 L369.59,416.56 L370.72,416.62 L371.84,416.67 L372.97,416.73 L374.10,416.78 L375.23,416.84 L376.36,416.89 L377.49,416.94 L378.62,416.99 L379.75,417.04 L380.87,417.09 L382.00,417.14 L383.13,417.19 L384.26,417.23 L385.39,417.28 L386.52,417.33 L387.65,417.37 L388.78,417.41 L389.90,417.46 L391.03,417.50 L392.16,417.54 L393.29,417.58 L394.42,417.62 L395.55,417.66 L396.68,417.70 L397.81,417.74 L398.93,417.78 L400.06,417.82 L401.19,417.85 L402.32,417.89 L403.45,417.92 L404.58,417.96 L405.71,417.99 L406.84,418.03 L407.96,418.06 L409.09,418.09 L410.22,418.12 L411.35,418.15 L412.48,418.18 L413.61,418.21 L414.74,418.24 L415.87,418.27 L416.99,418.30 L418.12,418.33 L419.25,418.36 L420.38,418.39 L421.51,418.41 L422.64,418.44 L423.77,418.47 L424.90,418.49 L426.03,418.52 L427.15,418.54 L428.28,418.57 L429.41,418.59 L430.54,418.61 L431.67,418.64 L432.80,418.66 L433.93,418.68 L435.06,418.70 L436.18,418.72 L437.31,418.75 L438.44,418.77 L439.57,418.79 L440.70,418.81 L441.83,418.83 L442.96,418.85 L444.09,418.87 L445.21,418.89 L446.34,418.90 L447.47,418.92 L448.60,418.94 L449.73,418.96 L450.86,418.98 L451.99,418.99 L453.12,419.01 L454.24,419.03 L455.37,419.04 L456.50,419.06 L457.63,419.07 L458.76,419.09 L459.89,419.10 L461.02,419.12 L462.15,419.13 L463.27,419.15 L464.40,419.16 L465.53,419.18 L466.66,419.19 L467.79,419.20 L468.92,419.22 L470.05,419.23 L471.18,419.24 L472.30,419.26 L473.43,419.27 L474.56,419.28 L475.69,419.29 L476.82,419.30 L477.95,419.32 L479.08,419.33 L480.21,419.34 L481.33,419.35 L482.46,419.36 L483.59,419.37 L484.72,419.38 L485.85,419.39 L486.98,419.40 L488.11,419.41 L489.24,419.42 L490.36,419.43 L491.49,419.44 L492.62,419.45 L493.75,419.46 L494.88,419.47 L496.01,419.48 L497.14,419.49 L498.27,419.49 L499.39,419.50 L500.52,419.51 L501.65,419.52 L502.78,419.53 L503.91,419.54 L505.04,419.54 L506.17,419.55 L507.30,419.56 L508.42,419.57 L509.55,419.57 L510.68,419.58 L511.81,419.59 L512.94,419.59 L514.07,419.60 L515.20,419.61 L516.33,419.61 L517.45,419.62 L518.58,419.63 L519.71,419.63 L520.84,419.64 L521.97,419.64 L523.10,419.65 L524.23,419.66 L525.36,419.66 L526.48,419.67 L527.61,419.67 L528.74,419.68 L529.87,419.68 L531.00,419.69" fill="none" stroke="#1a35ff" stroke-width="5.0" stroke-dasharray="10 10" stroke-dashoffset="2.93"/>
<path d="M81.00,35.77 L81.13,37.14 L81.25,38.51 L81.38,39.87 L81.51,41.22 L81.64,42.56 L81.76,43.90 L81.89,45.23 L82.02,46.55 L82.14,47.86 L82.27,49.17 L82.40,50.47 L82.53,51.77 L82.65,53.05 L82.78,54.33 L82.91,55.60 L83.03,56.87 L83.16,58.13 L83.29,59.38 L83.42,60.62 L83.54,61.86 L83.67,63.09 L83.80,64.32 L83.92,65.53 L84.05,66.75 L84.18,67.95 L84.31,69.15 L84.43,70.34 L84.56,71.53 L84.69,72.71 L84.81,73.88 L84.94,75.05 L85.07,76.21 L85.19,77.37 L85.32,78.52 L85.45,79.66 L85.58,80.80 L85.70,81.93 L85.83,83.05 L85.96,84.17 L86.08,85.29 L86.21,86.40 L86.34,87.50 L86.47,88.60 L86.59,89.69 L86.72,90.77 L86.85,91.85 L86.97,92.93 L87.10,94.00 L87.23,95.06 L87.36,96.12 L87.48,97.17 L87.61,98.22 L87.74,99.26 L87.86,100.30 L87.99,101.33 L88.12,102.36 L88.25,103.38 L88.37,104.40 L88.50,105.41 L88.92,108.73 L89.34,112.00 L89.77,115.21 L90.19,118.38 L90.61,121.49 L91.03,124.55 L91.45,127.57 L91.87,130.54 L92.30,133.46 L92.72,136.34 L93.14,139.18 L93.56,141.97 L93.98,144.72 L94.40,147.43 L94.83,150.10 L95.25,152.74 L95.67,155.33 L96.09,157.89 L96.51,160.41 L96.93,162.89 L97.36,165.34 L97.78,167.76 L98.20,170.14 L98.62,172.49 L99.04,174.80 L99.46,177.09 L99.89,179.34 L100.31,181.57 L100.73,183.77 L101.15,185.93 L101.57,188.07 L101.99,190.18 L102.42,192.27 L102.84,194.32 L103.26,196.36 L103.68,198.36 L104.10,200.34 L104.52,202.30 L104.95,204.23 L105.37,206.14 L105.79,208.03 L106.21,209.89 L106.63,211.74 L107.05,213.56 L107.48,215.35 L107.90,217.13 L108.32,218.89 L108.74,220.63 L109.16,222.34 L109.58,224.04 L110.01,225.72 L110.43,227.38 L110.85,229.03 L111.27,230.65 L111.69,232.26 L112.11,233.85 L112.54,235.42 L112.96,236.98 L113.38,238.52 L113.80,240.04 L114.22,241.55 L114.64,243.04 L115.07,244.52 L115.49,245.98 L115.91,247.42 L116.33,248.86 L116.75,250.28 L117.17,251.68 L117.60,253.07 L118.02,254.45 L118.44,255.81 L118.86,257.16 L119.28,258.50 L119.70,259.82 L120.13,261.14 L120.55,262.44 L120.97,263.72 L121.39,265.00 L121.81,266.26 L122.23,267.52 L122.66,268.76 L123.08,269.99 L123.50,271.21 L123.92,272.41 L124.34,273.61 L124.77,274.80 L125.19,275.97 L125.61,277.14 L126.03,278.29 L126.45,279.44 L126.87,280.58 L127.30,281.70 L127.72,282.82 L128.14,283.92 L128.56,285.02 L128.98,286.11 L129.40,287.19 L129.83,288.25 L130.25,289.31 L130.67,290.37 L131.09,291.41 L131.51,292.44 L131.93,293.47 L132.36,294.48 L132.78,295.49 L133.20,296.49 L133.62,297.48 L134.04,298.46 L134.46,299.44 L134.89,300.40 L135.31,301.36 L135.73,302.31 L136.15,303.26 L136.57,304.19 L136.99,305.12 L137.42,306.04 L137.84,306.95 L138.26,307.85 L138.68,308.75 L139.10,309.64 L139.52,310.52 L139.95,311.39 L140.37,312.26 L140.79,313.12 L141.21,313.97 L141.63,314.82 L142.05,315.65 L142.48,316.48 L142.90,317.31 L143.32,318.12 L143.74,318.93 L144.16,319.74 L144.58,320.53 L145.01,321.32 L145.43,322.10 L145.85,322.88 L146.27,323.65 L146.69,324.41 L147.11,325.16 L147.54,325.91 L147.96,326.65 L148.38,327.39 L148.80,328.11 L149.22,328.84 L149.64,329.55 L150.07,330.26 L150.49,330.96 L150.91,331.66 L151.33,332.35 L151.75,333.03 L152.17,333.71 L152.60,334.38 L153.02,335.04 L153.44,335.70 L153.86,336.36 L154.28,337.00 L154.70,337.64 L155.13,338.28 L155.55,338.90 L155.97,339.53 L156.39,340.14 L156.81,340.75 L157.23,341.36 L157.66,341.96 L158.08,342.55 L158.50,343.14 L158.92,343.72 L159.34,344.30 L159.77,344.87 L160.19,345.43 L160.61,345.99 L161.03,346.55 L161.45,347.10 L161.87,347.64 L162.30,348.18 L162.72,348.72 L163.14,349.25 L163.56,349.77 L163.98,350.29 L164.40,350.80 L164.83,351.31 L165.25,351.82 L165.67,352.31 L166.09,352.81 L166.51,353.30 L166.93,353.79 L167.36,354.27 L167.78,354.74 L168.20,355.21 L168.62,355.68 L169.04,356.15 L169.46,356.61 L169.89,357.06 L170.31,357.51 L170.73,357.96 L171.15,358.40 L171.57,358.84 L171.99,359.27 L172.42,359.70 L172.84,360.12 L173.26,360.54 L173.68,360.96 L174.10,361.37 L174.52,361.77 L174.95,362.17 L175.37,362.57 L175.79,362.96 L176.21,363.35 L176.63,363.73 L177.05,364.11 L177.48,364.49 L177.90,364.86 L178.32,365.23 L178.74,365.60 L179.16,365.96 L179.58,366.31 L180.01,366.67 L180.43,367.02 L180.85,367.36 L181.27,367.70 L181.69,368.04 L182.11,368.38 L182.54,368.71 L182.96,369.04 L183.38,369.37 L183.80,369.69 L184.22,370.01 L184.64,370.33 L185.07,370.64 L185.49,370.95 L185.91,371.26 L186.33,371.57 L186.75,371.87 L187.17,372.17 L187.60,372.47 L188.02,372.76 L188.44,373.05 L188.86,373.34 L189.28,373.63 L189.70,373.91 L190.13,374.20 L190.55,374.48 L190.97,374.75 L191.39,375.03 L191.81,375.30 L192.23,375.57 L192.66,375.84 L193.08,376.10 L193.50,376.37 L194.63,377.06 L195.76,377.74 L196.89,378.40 L198.02,379.05 L199.14,379.69 L200.27,380.31 L201.40,380.92 L202.53,381.52 L203.66,382.10 L204.79,382.67 L205.92,383.24 L207.05,383.79 L208.17,384.33 L209.30,384.86 L210.43,385.37 L211.56,385.88 L212.69,386.38 L213.82,386.87 L214.95,387.36 L216.08,387.83 L217.20,388.29 L218.33,388.75 L219.46,389.20 L220.59,389.64 L221.72,390.08 L222.85,390.50" fill="none" stroke="#55ff00" stroke-width="5.0" stroke-dasharray="10 10" stroke-dashoffset="10"/>
<path d="M223.98,390.92 L225.11,391.34 L226.23,391.75 L227.36,392.15 L228.49,392.55 L229.62,392.94 L230.75,393.33 L231.88,393.71 L233.01,394.09 L234.14,394.46 L235.26,394.83 L236.39,395.20 L237.52,395.56 L238.65,395.92 L239.78,396.27 L240.91,396.63 L242.04,396.98 L243.17,397.33 L244.29,397.67 L245.42,398.02 L246.55,398.36 L247.68,398.70 L248.81,399.04 L249.94,399.38 L251.07,399.71 L252.20,400.05 L253.32,400.38 L254.45,400.71 L255.58,401.04 L256.71,401.36 L257.84,401.68 L258.97,401.99 L260.10,402.29 L261.23,402.59 L262.35,402.88 L263.48,403.17 L264.61,403.45 L265.74,403.73 L266.87,404.01 L268.00,404.28 L269.13,404.54 L270.26,404.80 L271.38,405.06 L272.51,405.31 L273.64,405.56 L274.77,405.80 L275.90,406.04 L277.03,406.27 L278.16,406.50 L279.29,406.73 L280.41,406.95 L281.54,407.17 L282.67,407.39 L283.80,407.60 L284.93,407.81 L286.06,408.01 L287.19,408.21 L288.32,408.41 L289.44,408.61 L290.57,408.80 L291.70,408.98 L292.83,409.17 L293.96,409.35 L295.09,409.53 L296.22,409.70 L297.35,409.88 L298.47,410.05 L299.60,410.21 L300.73,410.38 L301.86,410.54 L302.99,410.70 L304.12,410.85 L305.25,411.01 L306.38,411.16 L307.51,411.30 L308.63,411.45 L309.76,411.59 L310.89,411.73 L312.02,411.87 L313.15,412.01 L314.28,412.14 L315.41,412.27 L316.54,412.40 L317.66,412.53 L318.79,412.66 L319.92,412.78 L321.05,412.90 L322.18,413.02 L323.31,413.13 L324.44,413.25 L325.57,413.36 L326.69,413.47 L327.82,413.58 L328.95,413.69 L330.08,413.79 L331.21,413.90 L332.34,414.00 L333.47,414.10 L334.60,414.20 L335.72,414.30 L336.85,414.39 L337.98,414.49 L339.11,414.58 L340.24,414.67 L341.37,414.76 L342.50,414.84 L343.63,414.93 L344.75,415.02 L345.88,415.10 L347.01,415.18 L348.14,415.26 L349.27,415.34 L350.40,415.42 L351.53,415.49 L352.66,415.57 L353.78,415.64 L354.91,415.72 L356.04,415.79 L357.17,415.86 L358.30,415.93 L359.43,416.00 L360.56,416.06 L361.69,416.13 L362.81,416.19 L363.94,416.26 L365.07,416.32 L366.20,416.38 L367.33,416.44 L368.46,416.50 L369.59,416.56 L370.72,416.62 L371.84,416.67 L372.97,416.73 L374.10,416.78 L375.23,416.84 L376.36,416.89 L377.49,416.94 L378.62,416.99 L379.75,417.04 L380.87,417.09 L382.00,417.14 L383.13,417.19 L384.26,417.23 L385.39,417.28 L386.52,417.33 L387.65,417.37 L388.78,417.41 L389.90,417.46 L391.03,417.50 L392.16,417.54 L393.29,417.58 L394.42,417.62 L395.55,417.66 L396.68,417.70 L397.81,417.74 L398.93,417.78 L400.06,417.82 L401.19,417.85 L402.32,417.89 L403.45,417.92 L404.58,417.96 L405.71,417.99 L406.84,418.03 L407.96,418.06 L409.09,418.09 L410.22,418.12 L411.35,418.15 L412.48,418.18 L413.61,418.21 L414.74,418.24 L415.87,418.27 L416.99,418.30 L418.12,418.33 L419.25,418.36 L420.38,418.39 L421.51,418.41 L422.64,418.44 L423.77,418.47 L424.90,418.49 L426.03,418.52 L427.15,418.54 L428.28,418.57 L429.41,418.59 L430.54,418.61 L431.67,418.64 L432.80,418.66 L433.93,418.68 L435.06,418.70 L436.18,418.72 L437.31,418.75 L438.44,418.77 L439.57,418.79 L440.70,418.81 L441.83,418.83 L442.96,418.85 L444.09,418.87 L445.21,418.89 L446.34,418.90 L447.47,418.92 L448.60,418.94 L449.73,418.96 L450.86,418.98 L451.99,418.99 L453.12,419.01 L454.24,419.03 L455.37,419.04 L456.50,419.06 L457.63,419.07 L458.76,419.09 L459.89,419.10 L461.02,419.12 L462.15,419.13 L463.27,419.15 L464.40,419.16 L465.53,419.18 L466.66,419.19 L467.79,419.20 L468.92,419.22 L470.05,419.23 L471.18,419.24 L472.30,419.26 L473.43,419.27 L474.56,419.28 L475.69,419.29 L476.82,419.30 L477.95,419.32 L479.08,419.33 L480.21,419.34 L481.33,419.35 L482.46,419.36 L483.59,419.37 L484.72,419.38 L485.85,419.39 L486.98,419.40 L488.11,419.41 L489.24,419.42 L490.36,419.43 L491.49,419.44 L492.62,419.45 L493.75,419.46 L494.88,419.47 L496.01,419.48 L497.14,419.49 L498.27,419.49 L499.39,419.50 L500.52,419.51 L501.65,419.52 L502.78,419.53 L503.91,419.54 L505.04,419.54 L506.17,419.55 L507.30,419.56 L508.42,419.57 L509.55,419.57 L510.68,419.58 L511.81,419.59 L512.94,419.59 L514.07,419.60 L515.20,419.61 L516.33,419.61 L517.45,419.62 L518.58,419.63 L519.71,419.63 L520.84,419.64 L521.97,419.64 L523.10,419.65 L524.23,419.66 L525.36,419.66 L526.48,419.67 L527.61,419.67 L528.74,419.68 L529.87,419.68 L531.00,419.69" fill="none" stroke="#55ff00" stroke-width="5.0" stroke-dasharray="10 10" stroke-dashoffset="19.10"/>
<path d="M81.00,35.95 L81.13,37.07 L81.25,38.18 L81.38,39.29 L81.51,40.40 L81.64,41.50 L81.76,42.60 L81.89,43.69 L82.02,44.78 L82.14,45.87 L82.27,46.95 L82.40,48.03 L82.53,49.10 L82.65,50.17 L82.78,51.24 L82.91,52.30 L83.03,53.36 L83.16,54.41 L83.29,55.46 L83.42,56.51 L83.54,57.56 L83.67,58.60 L83.80,59.63 L83.92,60.67 L84.05,61.69 L84.18,62.72 L84.31,63.74 L84.43,64.76 L84.56,65.77 L84.69,66.79 L84.81,67.79 L84.94,68.80 L85.07,69.80 L85.19,70.79 L85.32,71.79 L85.45,72.78 L85.58,73.76 L85.70,74.75 L85.83,75.73 L85.96,76.70 L86.08,77.67 L86.21,78.64 L86.34,79.61 L86.47,80.57 L86.59,81.53 L86.72,82.49 L86.85,83.44 L86.97,84.39 L87.10,85.33 L87.23,86.28 L87.36,87.21 L87.48,88.15 L87.61,89.08 L87.74,90.01 L87.86,90.94 L87.99,91.86 L88.12,92.78 L88.25,93.70 L88.37,94.61 L88.50,95.52 L88.92,98.52 L89.34,101.48 L89.77,104.41 L90.19,107.30 L90.61,110.16 L91.03,112.99 L91.45,115.79 L91.87,118.56 L92.30,121.29 L92.72,124.00 L93.14,126.67 L93.56,129.31 L93.98,131.93 L94.40,134.51 L94.83,137.07 L95.25,139.60 L95.67,142.10 L96.09,144.57 L96.51,147.02 L96.93,149.44 L97.36,151.83 L97.78,154.20 L98.20,156.54 L98.62,158.85 L99.04,161.14 L99.46,163.41 L99.89,165.65 L100.31,167.86 L100.73,170.06 L101.15,172.23 L101.57,174.37 L101.99,176.50 L102.42,178.60 L102.84,180.68 L103.26,182.73 L103.68,184.77 L104.10,186.78 L104.52,188.78 L104.95,190.75 L105.37,192.70 L105.79,194.63 L106.21,196.54 L106.63,198.43 L107.05,200.30 L107.48,202.16 L107.90,203.99 L108.32,205.80 L108.74,207.60 L109.16,209.38 L109.58,211.14 L110.01,212.88 L110.43,214.60 L110.85,216.31 L111.27,218.00 L111.69,219.67 L112.11,221.33 L112.54,222.97 L112.96,224.59 L113.38,226.20 L113.80,227.79 L114.22,229.37 L114.64,230.93 L115.07,232.47 L115.49,234.00 L115.91,235.52 L116.33,237.02 L116.75,238.51 L117.17,239.98 L117.60,241.44 L118.02,242.88 L118.44,244.31 L118.86,245.72 L119.28,247.13 L119.70,248.52 L120.13,249.89 L120.55,251.26 L120.97,252.61 L121.39,253.94 L121.81,255.27 L122.23,256.58 L122.66,257.88 L123.08,259.17 L123.50,260.45 L123.92,261.71 L124.34,262.97 L124.77,264.21 L125.19,265.44 L125.61,266.66 L126.03,267.86 L126.45,269.06 L126.87,270.25 L127.30,271.42 L127.72,272.59 L128.14,273.74 L128.56,274.89 L128.98,276.02 L129.40,277.14 L129.83,278.26 L130.25,279.36 L130.67,280.45 L131.09,281.54 L131.51,282.61 L131.93,283.67 L132.36,284.73 L132.78,285.77 L133.20,286.81 L133.62,287.84 L134.04,288.86 L134.46,289.86 L134.89,290.86 L135.31,291.86 L135.73,292.84 L136.15,293.81 L136.57,294.78 L136.99,295.74 L137.42,296.68 L137.84,297.62 L138.26,298.56 L138.68,299.48 L139.10,300.40 L139.52,301.30 L139.95,302.20 L140.37,303.10 L140.79,303.98 L141.21,304.86 L141.63,305.72 L142.05,306.59 L142.48,307.44 L142.90,308.29 L143.32,309.12 L143.74,309.95 L144.16,310.78 L144.58,311.60 L145.01,312.41 L145.43,313.21 L145.85,314.00 L146.27,314.79 L146.69,315.57 L147.11,316.35 L147.54,317.11 L147.96,317.88 L148.38,318.63 L148.80,319.38 L149.22,320.12 L149.64,320.85 L150.07,321.58 L150.49,322.30 L150.91,323.02 L151.33,323.72 L151.75,324.43 L152.17,325.12 L152.60,325.81 L153.02,326.50 L153.44,327.17 L153.86,327.85 L154.28,328.51 L154.70,329.17 L155.13,329.83 L155.55,330.47 L155.97,331.12 L156.39,331.75 L156.81,332.38 L157.23,333.01 L157.66,333.63 L158.08,334.24 L158.50,334.85 L158.92,335.45 L159.34,336.05 L159.77,336.64 L160.19,337.23 L160.61,337.81 L161.03,338.39 L161.45,338.96 L161.87,339.53 L162.30,340.09 L162.72,340.65 L163.14,341.20 L163.56,341.75 L163.98,342.29 L164.40,342.83 L164.83,343.36 L165.25,343.89 L165.67,344.41 L166.09,344.93 L166.51,345.45 L166.93,345.96 L167.36,346.46 L167.78,346.96 L168.20,347.46 L168.62,347.95 L169.04,348.44 L169.46,348.93 L169.89,349.41 L170.31,349.89 L170.73,350.36 L171.15,350.83 L171.57,351.29 L171.99,351.75 L172.42,352.21 L172.84,352.66 L173.26,353.11 L173.68,353.56 L174.10,354.00 L174.52,354.44 L174.95,354.88 L175.37,355.31 L175.79,355.74 L176.21,356.16 L176.63,356.58 L177.05,357.00 L177.48,357.42 L177.90,357.83 L178.32,358.24 L178.74,358.65 L179.16,359.05 L179.58,359.45 L180.01,359.84 L180.43,360.24 L180.85,360.63 L181.27,361.02 L181.69,361.40 L182.11,361.78 L182.54,362.16 L182.96,362.54 L183.38,362.91 L183.80,363.29 L184.22,363.65 L184.64,364.02 L185.07,364.38 L185.49,364.74 L185.91,365.10 L186.33,365.46 L186.75,365.81 L187.17,366.16 L187.60,366.51 L188.02,366.86 L188.44,367.20 L188.86,367.54 L189.28,367.88 L189.70,368.22 L190.13,368.55 L190.55,368.88 L190.97,369.21 L191.39,369.54 L191.81,369.87 L192.23,370.19 L192.66,370.51 L193.08,370.83 L193.50,371.15 L194.63,371.99 L195.76,372.81 L196.89,373.62 L198.02,374.41 L199.14,375.20 L200.27,375.96 L201.40,376.72 L202.53,377.46 L203.66,378.19 L204.79,378.91 L205.92,379.61 L207.05,380.30 L208.17,380.99 L209.30,381.65 L210.43,382.31 L211.56,382.96 L212.69,383.59 L213.82,384.22 L214.95,384.83 L216.08,385.43 L217.20,386.02 L218.33,386.61 L219.46,387.18 L220.59,387.74 L221.72,388.29 L222.85,388.83 L223.98,389.37 L225.11,389.89 L226.23,390.40 L227.36,390.91 L228.49,391.41 L229.62,391.89 L230.75,392.37 L231.88,392.84 L233.01,393.31 L234.14,393.76 L235.26,394.21 L236.39,394.65 L237.52,395.08 L238.65,395.50 L239.78,395.92 L240.91,396.33 L242.04,396.73 L243.17,397.12 L244.29,397.51 L245.42,397.89 L246.55,398.27 L247.68,398.64 L248.81,399.00 L249.94,399.35 L251.07,399.70 L252.20,400.05 L253.32,400.38 L254.45,400.71 L255.58,401.04 L256.71,401.36 L257.84,401.68 L258.97,401.99 L260.10,402.29 L261.23,402.59 L262.35,402.88 L263.48,403.17 L264.61,403.45 L265.74,403.73 L266.87,404.01 L268.00,404.28 L269.13,404.54 L270.26,404.80 L271.38,405.06 L272.51,405.31 L273.64,405.56 L274.77,405.80 L275.90,406.04 L277.03,406.27 L278.16,406.50 L279.29,406.73 L280.41,406.95 L281.54,407.17 L282.67,407.39 L283.80,407.60 L284.93,407.81 L286.06,408.01 L287.19,408.21 L288.32,408.41 L289.44,408.61 L290.57,408.80 L291.70,408.98 L292.83,409.17 L293.96,409.35 L295.09,409.53 L296.22,409.70 L297.35,409.88 L298.47,410.05 L299.60,410.21 L300.73,410.38 L301.86,410.54 L302.99,410.70 L304.12,410.85 L305.25,411.01 L306.38,411.16 L307.51,411.30 L308.63,411.45 L309.76,411.59 L310.89,411.73 L312.02,411.87 L313.15,412.01 L314.28,412.14 L315.41,412.27 L316.54,412.40 L317.66,412.53 L318.79,412.66 L319.92,412.78 L321.05,412.90 L322.18,413.02 L323.31,413.13 L324.44,413.25 L325.57,413.36 L326.69,413.47 L327.82,413.58 L328.95,413.69 L330.08,413.79 L331.21,413.90 L332.34,414.00 L333.47,414.10 L334.60,414.20 L335.72,414.30 L336.85,414.39 L337.98,414.49 L339.11,414.58 L340.24,414.67 L341.37,414.76 L342.50,414.84 L343.63,414.93 L344.75,415.02 L345.88,415.10 L347.01,415.18 L348.14,415.26 L349.27,415.34 L350.40,415.42 L351.53,415.49 L352.66,415.57 L353.78,415.64 L354.91,415.72 L356.04,415.79 L357.17,415.86 L358.30,415.93 L359.43,416.00 L360.56,416.06 L361.69,416.13 L362.81,416.19 L363.94,416.26 L365.07,416.32 L366.20,416.38 L367.33,416.44 L368.46,416.50 L369.59,416.56 L370.72,416.62 L371.84,416.67 L372.97,416.73 L374.10,416.78 L375.23,416.84 L376.36,416.89 L377.49,416.94 L378.62,416.99 L379.75,417.04 L380.87,417.09 L382.00,417.14 L383.13,417.19 L384.26,417.23 L385.39,417.28 L386.52,417.33 L387.65,417.37 L388.78,417.41 L389.90,417.46 L391.03,417.50 L392.16,417.54 L393.29,417.58 L394.42,417.62 L395.55,417.66 L396.68,417.70 L397.81,417.74 L398.93,417.78 L400.06,417.82 L401.19,417.85 L402.32,417.89 L403.45,417.92 L404.58,417.96 L405.71,417.99 L406.84,418.03 L407.96,418.06 L409.09,418.09 L410.22,418.12 L411.35,418.15 L412.48,418.18 L413.61,418.21 L414.74,418.24 L415.87,418.27 L416.99,418.30 L418.12,418.33 L419.25,418.36 L420.38,418.39 L421.51,418.41 L422.64,418.44 L423.77,418.47 L424.90,418.49 L426.03,418.52 L427.15,418.54 L428.28,418.57 L429.41,418.59 L430.54,418.61 L431.67,418.64 L432.80,418.66 L433.93,418.68 L435.06,418.70 L436.18,418.72 L437.31,418.75 L438.44,418.77 L439.57,418.79 L440.70,418.81 L441.83,418.83 L442.96,418.85 L444.09,418.87 L445.21,418.89 L446.34,418.90 L447.47,418.92 L448.60,418.94 L449.73,418.96 L450.86,418.98 L451.99,418.99 L453.12,419.01 L454.24,419.03 L455.37,419.04 L456.50,419.06 L457.63,419.07 L458.76,419.09 L459.89,419.10 L461.02,419.12 L462.15,419.13 L463.27,419.15 L464.40,419.16 L465.53,419.18 L466.66,419.19 L467.79,419.20 L468.92,419.22 L470.05,419.23 L471.18,419.24 L472.30,419.26 L473.43,419.27 L474.56,419.28 L475.69,419.29 L476.82,419.30 L477.95,419.32 L479.08,419.33 L480.21,419.34 L481.33,419.35 L482.46,419.36 L483.59,419.37 L484.72,419.38 L485.85,419.39 L486.98,419.40 L488.11,419.41 L489.24,419.42 L490.36,419.43 L491.49,419.44 L492.62,419.45 L493.75,419.46 L494.88,419.47 L496.01,419.48 L497.14,419.49 L498.27,419.49 L499.39,419.50 L500.52,419.51 L501.65,419.52 L502.78,419.53 L503.91,419.54 L505.04,419.54 L506.17,419.55 L507.30,419.56 L508.42,419.57 L509.55,419.57 L510.68,419.58 L511.81,419.59 L512.94,419.59 L514.07,419.60 L515.20,419.61 L516.33,419.61 L517.45,419.62 L518.58,419.63 L519.71,419.63 L520.84,419.64 L521.97,419.64 L523.10,419.65 L524.23,419.66 L525.36,419.66 L526.48,419.67 L527.61,419.67 L528.74,419.68 L529.87,419.68 L531.00,419.69" fill="none" stroke="#ff0000" stroke-width="5.0" stroke-dasharray="10 10"/>

</g>
<g class="tl"><text x="80.7" y="446.6" text-anchor="middle">0</text><text x="155.7" y="446.6" text-anchor="middle">1</text><text x="230.7" y="446.6" text-anchor="middle">2</text><text x="305.7" y="446.6" text-anchor="middle">3</text><text x="380.7" y="446.6" text-anchor="middle">4</text><text x="455.7" y="446.6" text-anchor="middle">5</text><text x="530.7" y="446.6" text-anchor="middle">6</text><text x="76.3" y="428.6" text-anchor="end">0</text><text x="76.3" y="294.9" text-anchor="end">1</text><text x="76.3" y="161.3" text-anchor="end">2</text><text x="76.3" y="27.6" text-anchor="end">3</text></g>
<g><line x1="290" y1="45.6" x2="338.7" y2="45.6" stroke="#1a35ff" stroke-width="4.6"/><text y="53.9" class="lg"><tspan x="343.0" class="nm">SWCNT</tspan><tspan x="428.0">,</tspan><tspan x="438.2" class="phi">&#x3d5;</tspan><tspan x="450.3" class="val" dy="1.2">=</tspan><tspan class="val" dy="-1.2">0.01</tspan></text><line x1="290" y1="77.1" x2="338.7" y2="77.1" stroke="#55ff00" stroke-width="4.6"/><text y="85.6" class="lg"><tspan x="343.0" class="nm">SWCNT</tspan><tspan x="428.0">,</tspan><tspan x="438.2" class="phi">&#x3d5;</tspan><tspan x="450.3" class="val" dy="1.2">=</tspan><tspan class="val" dy="-1.2">0.05</tspan></text><line x1="290" y1="108.6" x2="338.7" y2="108.6" stroke="#ff0000" stroke-width="4.6"/><text y="117.2" class="lg"><tspan x="343.0" class="nm">SWCNT</tspan><tspan x="428.0">,</tspan><tspan x="438.2" class="phi">&#x3d5;</tspan><tspan x="450.3" class="val" dy="1.2">=</tspan><tspan class="val" dy="-1.2">0.1</tspan></text><line x1="290" y1="140.2" x2="338.7" y2="140.2" stroke="#1a35ff" stroke-width="4.6" stroke-dasharray="10 10"/><text y="148.9" class="lg"><tspan x="344.3" class="nm">MWCNT</tspan><tspan x="439.0">,</tspan><tspan x="447.2" class="phi">&#x3d5;</tspan><tspan x="459.3" class="val" dy="1.2">=</tspan><tspan class="val" dy="-1.2">0.01</tspan></text><line x1="290" y1="171.7" x2="338.7" y2="171.7" stroke="#55ff00" stroke-width="4.6" stroke-dasharray="10 10"/><text y="180.5" class="lg"><tspan x="344.3" class="nm">MWCNT</tspan><tspan x="439.0">,</tspan><tspan x="447.2" class="phi">&#x3d5;</tspan><tspan x="459.3" class="val" dy="1.2">=</tspan><tspan class="val" dy="-1.2">0.05</tspan></text><line x1="290" y1="203.2" x2="338.7" y2="203.2" stroke="#ff0000" stroke-width="4.6" stroke-dasharray="10 10"/><text y="212.2" class="lg"><tspan x="344.3" class="nm">MWCNT</tspan><tspan x="439.0">,</tspan><tspan x="447.2" class="phi">&#x3d5;</tspan><tspan x="459.3" class="val" dy="1.2">=</tspan><tspan class="val" dy="-1.2">0.1</tspan></text></g>
<g fill="#1ba70e" stroke="#1ba70e">
<line x1="94" y1="352.5" x2="155" y2="274.5" stroke-width="4.3"/>
<polygon points="164,263 146.5,272.5 157.5,282.7" stroke-width="1" stroke-linejoin="round"/>
</g>
<text y="350.5" style="font-size:34px"><tspan x="236.8" style="font-size:32.5px">&#x3d5;</tspan><tspan x="252.8" dy="3.5" font-weight="bold" style="font-size:33px">=</tspan><tspan x="273.2" dy="-3.5" font-weight="bold" font-style="italic" letter-spacing="-0.33">0.01, 0.05, 0.1</tspan></text>
<text transform="translate(34.5,242.5) rotate(-90)" style="font-size:34px;font-weight:bold">N<tspan x="23" y="17.2" style="font-size:27.5px">G</tspan></text>
<path fill="#000" d="M296.8,454.3 C299.8,453.6 302.9,454.6 304.6,457.6 C305.4,459.2 305.6,461 305.6,462.5 L303.9,462.6 C303.6,460.3 302.6,458.2 300.9,456.9 C299.6,456 298.3,455.7 296.8,455.6 Z"/>
<path fill="#000" d="M304.1,461.5 L308.4,461.5 L308.4,474.2 C308.6,475.1 309.6,475.6 311.6,475.7 L311.6,477.3 L301.8,477.3 L301.8,475.7 C303.6,475.6 304.1,475.1 304.1,474.2 Z"/>
<path fill="#000" d="M307.2,463.2 C307.6,459.8 309.4,456.9 312.3,455.9 C313.4,455.5 314.6,455.4 315.5,455.3 L315.8,457.3 C314.4,457.3 313,457.5 311.8,458.1 C309.9,459.1 308.9,461.2 308.6,463.4 Z"/>
<circle cx="315.5" cy="456.6" r="1.9" fill="#000"/>
</svg>
</body></html>
